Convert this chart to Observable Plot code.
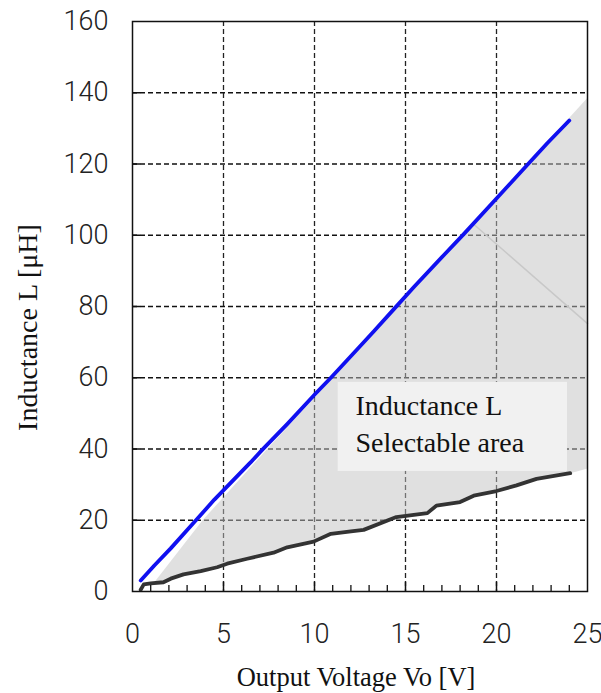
<!DOCTYPE html>
<html><head><meta charset="utf-8">
<script src="https://cdn.jsdelivr.net/npm/d3@7"></script>
<script src="https://cdn.jsdelivr.net/npm/@observablehq/plot@0.6"></script>
<style>
html,body{margin:0;padding:0;background:#fff}
#chart svg{display:block}
</style>
</head><body><div id="chart"></div>
<script>
// Upper limit curve (blue)
const blueVo = [0.45, 1.2, 2.1, 3.35, 4.5, 6.5, 7.15, 8.5, 10.05, 10.9, 12.35, 13.25, 14.35, 15.45, 17.1, 18.2, 20.0, 21.7, 22.8, 24.0];
const blueL  = [3.1, 7.3, 12.1, 19.2, 25.8, 36.3, 39.9, 47.0, 55.5, 60.0, 68.0, 73.0, 79.2, 85.4, 94.4, 100.3, 110.3, 119.8, 125.9, 132.2];
// Lower limit curve (black)
const blackVo = [0.45, 0.62, 1.0, 1.7, 2.1, 2.8, 3.75, 4.65, 5.2, 6.3, 7.75, 8.5, 9.95, 10.9, 12.0, 12.7, 14.5, 16.2, 16.7, 18.0, 18.75, 20.0, 21.1, 22.2, 24.05];
const blackL  = [0.5, 2.0, 2.3, 2.6, 3.6, 4.8, 5.7, 6.8, 7.8, 9.2, 10.9, 12.4, 14.0, 16.2, 16.9, 17.3, 20.9, 22.0, 24.1, 25.1, 26.9, 28.2, 29.8, 31.6, 33.2];
// Selectable area outline (upper edge + right edge end)
const areaTopVo = [1.2, 3.85, 7.4, 10.2, 18.7, 25];
const areaTopL  = [2.6, 20.0, 40.0, 55.5, 103.3, 138.6];
const areaEndVo = 25;
const areaEndL  = 34.5;
// faint streak inside the area
const streakVo = [18.7, 25];
const streakL  = [103.3, 75.2];
// ticks
const xTicks = [0, 5, 10, 15, 20, 25];
const yTicks = [0, 20, 40, 60, 80, 100, 120, 140, 160];
const xGrid = [5, 10, 15, 20];
const yGrid = [20, 40, 60, 80, 100, 120, 140];
const xMinor = [1,2,3,4,6,7,8,9,11,12,13,14,16,17,18,19,21,22,23,24];
const labelText = "Inductance L\nSelectable area";
const xTitle = "Output Voltage Vo [V]";
const yTitle = "Inductance L [μH]";

const blue = blueVo.map((v, i) => ({Vo: v, L: blueL[i]}));
const black = blackVo.map((v, i) => ({Vo: v, L: blackL[i]}));
const lowerEdge = black.filter(d => d.Vo >= areaTopVo[0]).reverse();
const region = [
  ...areaTopVo.map((v, i) => ({Vo: v, L: areaTopL[i]})),
  {Vo: areaEndVo, L: areaEndL},
  ...lowerEdge
];
const streak = streakVo.map((v, i) => ({Vo: v, L: streakL[i]}));

const serif = "'Liberation Serif', 'Times New Roman', serif";
const sans = "Roboto, 'Liberation Sans', sans-serif";

const chart = Plot.plot({
  width: 601,
  height: 693,
  marginLeft: 132,
  marginRight: 14,
  marginTop: 21,
  marginBottom: 102,
  style: {fontFamily: sans, fontSize: "27px", fontWeight: 300, color: "#222", background: "#fff"},
  x: {domain: [0, 25], label: null},
  y: {domain: [0, 160], label: null},
  marks: [
    Plot.ruleY(yGrid, {stroke: "#111", strokeWidth: 1.3, strokeDasharray: "5,3"}),
    Plot.ruleX(xGrid, {stroke: "#222", strokeWidth: 1.3, strokeDasharray: "5,3"}),
    Plot.line(region, {x: "Vo", y: "L", fill: "#c2c2c2", fillOpacity: 0.5, stroke: "none", curve: "linear"}),
    Plot.line(streak, {x: "Vo", y: "L", stroke: "#c8c8c8", strokeWidth: 1.5}),
    Plot.rect([0], {x1: () => 11.3, x2: () => 23.9, y1: () => 33.7, y2: () => 58.7, fill: "#f1f1f1"}),
    Plot.text([labelText], {x: () => 12.25, y: () => 47.6, textAnchor: "start", lineAnchor: "middle", lineHeight: 1.32, fontFamily: serif, fontSize: 28, fontWeight: 400, fill: "#111"}),
    Plot.line(black, {x: "Vo", y: "L", stroke: "#333", strokeWidth: 3.8}),
    Plot.line(blue, {x: "Vo", y: "L", stroke: "#1010f0", strokeWidth: 3.8}),
    Plot.frame({stroke: "#111", strokeWidth: 1.5}),
    Plot.ruleY(yGrid, {x1: 0, x2: 0.45, stroke: "#111", strokeWidth: 1.5}),
    Plot.ruleX(xMinor, {y1: 0, y2: 1.7, stroke: "#111", strokeWidth: 1.3}),
    Plot.ruleX(xGrid, {y1: 0, y2: 2.6, stroke: "#111", strokeWidth: 1.5}),
    Plot.axisX({ticks: xTicks, tickSize: 0, tickPadding: 32, label: null, fontSize: 27}),
    Plot.axisY({ticks: yTicks, tickSize: 0, tickPadding: 24, label: null, fontSize: 27}),
    Plot.text([xTitle], {frameAnchor: "bottom", dy: 86, dx: -4, lineAnchor: "middle", fontFamily: serif, fontSize: 26.5, fontWeight: 400, fill: "#111"}),
    Plot.text([yTitle], {x: () => -5.75, y: () => 74.1, rotate: -90, textAnchor: "middle", lineAnchor: "middle", fontFamily: serif, fontSize: 28, fontWeight: 400, fill: "#111"})
  ]
});
document.getElementById("chart").appendChild(chart);
</script>
</body></html>
